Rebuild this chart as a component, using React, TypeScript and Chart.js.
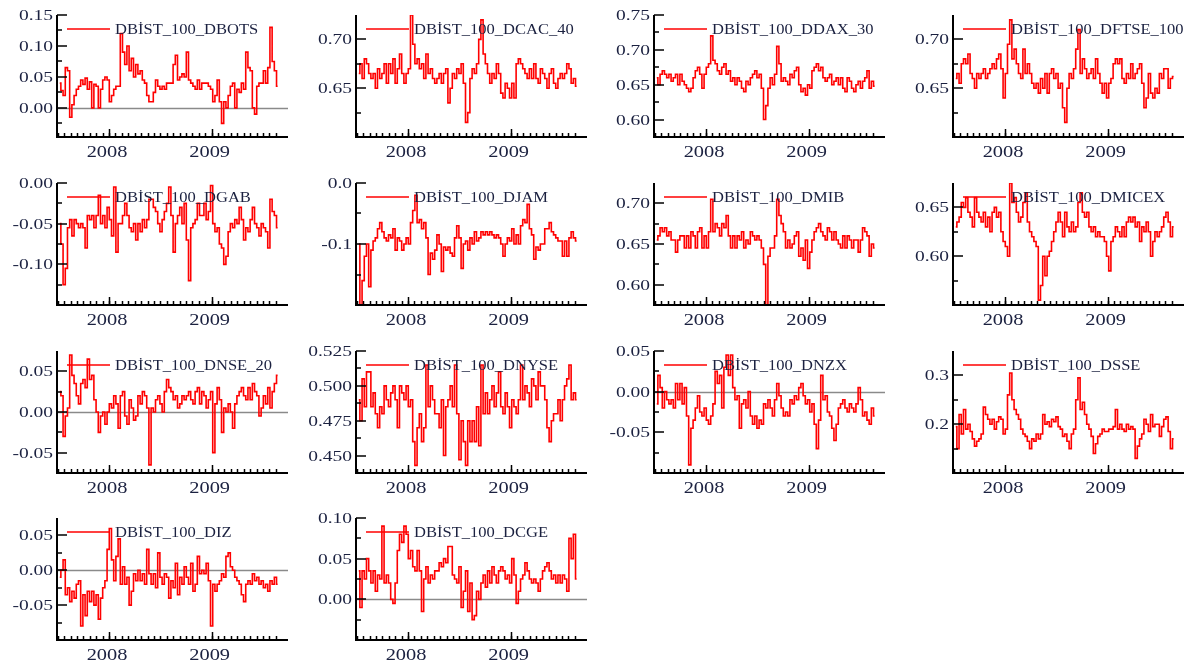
import React, { useEffect, useRef } from 'react';
import { Chart, registerables } from 'chart.js';

Chart.register(...registerables);

const dbots = [0.04, 0.028, 0.02, 0.065, 0.06, -0.015, 0.005, 0.02, 0.03, 0.035,
  0.045, 0.038, 0.048, 0.03, 0.042, 0.0, 0.038, 0.035, 0.0, 0.03,
  0.045, 0.05, 0.045, 0.01, 0.02, 0.03, 0.035, 0.035, 0.12, 0.09,
  0.07, 0.10, 0.06, 0.08, 0.05, 0.07, 0.055, 0.06, 0.045, 0.04,
  0.02, 0.01, 0.01, 0.025, 0.045, 0.035, 0.03, 0.035, 0.03, 0.04,
  0.04, 0.04, 0.07, 0.085, 0.045, 0.05, 0.055, 0.05, 0.09, 0.045,
  0.04, 0.035, 0.03, 0.045, 0.03, 0.04, 0.04, 0.04, 0.035, 0.03,
  0.01, 0.02, 0.045, 0.01, -0.025, 0.01, 0.0, 0.02, 0.035, 0.04,
  0.0, 0.03, 0.025, 0.04, 0.03, 0.09, 0.065, 0.06, 0.0, -0.01,
  0.035, 0.04, 0.04, 0.06, 0.04, 0.065, 0.13, 0.075, 0.06, 0.035];

const dcac40 = [0.665, 0.675, 0.66, 0.68, 0.675, 0.665, 0.66, 0.665, 0.65, 0.67,
  0.66, 0.665, 0.675, 0.655, 0.675, 0.665, 0.68, 0.655, 0.67, 0.685,
  0.665, 0.655, 0.665, 0.67, 0.725, 0.695, 0.675, 0.68, 0.67, 0.675,
  0.66, 0.685, 0.665, 0.67, 0.66, 0.655, 0.66, 0.665, 0.655, 0.665,
  0.67, 0.635, 0.65, 0.665, 0.66, 0.67, 0.665, 0.675, 0.655, 0.615,
  0.625, 0.66, 0.67, 0.665, 0.675, 0.70, 0.72, 0.685, 0.675, 0.665,
  0.655, 0.665, 0.66, 0.675, 0.665, 0.645, 0.64, 0.655, 0.65, 0.64,
  0.655, 0.64, 0.675, 0.68, 0.675, 0.67, 0.665, 0.66, 0.67, 0.66,
  0.675, 0.66, 0.655, 0.67, 0.665, 0.66, 0.65, 0.665, 0.67, 0.655,
  0.65, 0.66, 0.665, 0.66, 0.665, 0.675, 0.67, 0.655, 0.66, 0.652];

const ddax30 = [0.66, 0.65, 0.665, 0.67, 0.665, 0.66, 0.665, 0.655, 0.66, 0.665,
  0.65, 0.665, 0.655, 0.65, 0.645, 0.64, 0.645, 0.66, 0.67, 0.675,
  0.665, 0.645, 0.665, 0.675, 0.68, 0.72, 0.685, 0.68, 0.67, 0.665,
  0.675, 0.68, 0.665, 0.67, 0.655, 0.66, 0.65, 0.66, 0.655, 0.645,
  0.64, 0.655, 0.65, 0.66, 0.665, 0.67, 0.66, 0.665, 0.645, 0.60,
  0.62, 0.645, 0.66, 0.65, 0.665, 0.705, 0.68, 0.655, 0.66, 0.655,
  0.65, 0.665, 0.66, 0.67, 0.675, 0.65, 0.64, 0.645, 0.635, 0.65,
  0.645, 0.67, 0.675, 0.68, 0.67, 0.675, 0.66, 0.655, 0.66, 0.665,
  0.65, 0.655, 0.66, 0.65, 0.66, 0.645, 0.64, 0.66, 0.655, 0.645,
  0.64, 0.65, 0.655, 0.645, 0.655, 0.66, 0.67, 0.645, 0.655, 0.648];

const dftse100 = [0.66, 0.665, 0.655, 0.675, 0.68, 0.675, 0.685, 0.665, 0.66, 0.65,
  0.665, 0.66, 0.665, 0.67, 0.66, 0.665, 0.67, 0.675, 0.67, 0.68,
  0.685, 0.67, 0.64, 0.665, 0.695, 0.72, 0.68, 0.69, 0.675, 0.665,
  0.66, 0.69, 0.665, 0.675, 0.665, 0.655, 0.65, 0.655, 0.645, 0.66,
  0.65, 0.665, 0.645, 0.665, 0.67, 0.66, 0.665, 0.65, 0.655, 0.63,
  0.615, 0.65, 0.665, 0.66, 0.67, 0.69, 0.71, 0.665, 0.68, 0.67,
  0.66, 0.665, 0.67, 0.66, 0.68, 0.665, 0.655, 0.645, 0.655, 0.64,
  0.655, 0.66, 0.675, 0.68, 0.675, 0.68, 0.66, 0.655, 0.665, 0.66,
  0.675, 0.66, 0.665, 0.67, 0.675, 0.655, 0.63, 0.64, 0.665, 0.645,
  0.64, 0.65, 0.645, 0.665, 0.66, 0.67, 0.67, 0.65, 0.66, 0.662];

const dgab = [-0.05, -0.075, -0.125, -0.105, -0.055, -0.045, -0.065, -0.045, -0.05, -0.055,
  -0.05, -0.055, -0.08, -0.04, -0.045, -0.04, -0.055, -0.04, -0.015, -0.05,
  -0.04, -0.055, -0.03, -0.045, -0.065, -0.005, -0.085, -0.05, -0.05, -0.04,
  -0.025, -0.04, -0.055, -0.06, -0.05, -0.07, -0.05, -0.06, -0.045, -0.055,
  -0.045, -0.02, -0.02, -0.03, -0.035, -0.05, -0.06, -0.045, -0.035, -0.025,
  -0.005, -0.04, -0.085, -0.05, -0.04, -0.03, -0.05, -0.025, -0.07, -0.12,
  -0.055, -0.05, -0.045, -0.025, -0.04, -0.04, -0.025, -0.045, -0.035, -0.003,
  -0.05, -0.06, -0.055, -0.075, -0.08, -0.1, -0.09, -0.06, -0.05, -0.055,
  -0.045, -0.05, -0.03, -0.045, -0.07, -0.055, -0.06, -0.045, -0.03, -0.05,
  -0.055, -0.065, -0.05, -0.055, -0.06, -0.08, -0.02, -0.035, -0.04, -0.055];

const djam = [-0.10, -0.2, -0.16, -0.12, -0.1, -0.17, -0.11, -0.095, -0.09, -0.075,
  -0.065, -0.08, -0.09, -0.095, -0.085, -0.09, -0.075, -0.11, -0.09, -0.095,
  -0.11, -0.1, -0.09, -0.1, -0.065, -0.045, -0.02, -0.065, -0.06, -0.075,
  -0.065, -0.09, -0.15, -0.115, -0.125, -0.11, -0.085, -0.1, -0.145, -0.105,
  -0.11, -0.105, -0.115, -0.12, -0.09, -0.07, -0.09, -0.14, -0.1, -0.095,
  -0.11, -0.09, -0.1, -0.08, -0.095, -0.09, -0.08, -0.085, -0.08, -0.085,
  -0.08, -0.085, -0.09, -0.085, -0.09, -0.1, -0.12, -0.1, -0.09, -0.095,
  -0.075, -0.1, -0.085, -0.1, -0.07, -0.06, -0.065, -0.035, -0.075, -0.085,
  -0.125, -0.105, -0.11, -0.1, -0.1, -0.075, -0.075, -0.065, -0.08, -0.085,
  -0.09, -0.095, -0.095, -0.12, -0.095, -0.12, -0.09, -0.08, -0.09, -0.095];

const dmib = [0.655, 0.66, 0.67, 0.665, 0.67, 0.66, 0.665, 0.655, 0.655, 0.64,
  0.655, 0.66, 0.66, 0.645, 0.66, 0.645, 0.665, 0.66, 0.645, 0.665,
  0.67, 0.645, 0.66, 0.645, 0.665, 0.705, 0.665, 0.675, 0.67, 0.66,
  0.675, 0.67, 0.685, 0.66, 0.645, 0.66, 0.645, 0.66, 0.655, 0.665,
  0.645, 0.655, 0.65, 0.665, 0.66, 0.655, 0.66, 0.655, 0.645, 0.625,
  0.575, 0.635, 0.645, 0.645, 0.66, 0.705, 0.685, 0.675, 0.665, 0.645,
  0.655, 0.645, 0.65, 0.66, 0.665, 0.635, 0.645, 0.63, 0.655, 0.62,
  0.64, 0.655, 0.665, 0.67, 0.675, 0.665, 0.66, 0.655, 0.67, 0.665,
  0.655, 0.665, 0.655, 0.65, 0.645, 0.66, 0.645, 0.66, 0.655, 0.645,
  0.655, 0.655, 0.64, 0.655, 0.67, 0.665, 0.66, 0.635, 0.65, 0.645];

const dmicex = [0.63, 0.635, 0.64, 0.655, 0.65, 0.66, 0.645, 0.64, 0.63, 0.66,
  0.645, 0.64, 0.635, 0.645, 0.63, 0.64, 0.625, 0.645, 0.65, 0.64,
  0.645, 0.625, 0.615, 0.61, 0.60, 0.675, 0.655, 0.66, 0.645, 0.635,
  0.64, 0.655, 0.665, 0.635, 0.625, 0.62, 0.615, 0.61, 0.555, 0.57,
  0.60, 0.58, 0.60, 0.605, 0.615, 0.625, 0.635, 0.645, 0.635, 0.62,
  0.645, 0.63, 0.625, 0.635, 0.625, 0.63, 0.655, 0.665, 0.645, 0.64,
  0.645, 0.63, 0.625, 0.63, 0.62, 0.625, 0.62, 0.62, 0.615, 0.6,
  0.585, 0.615, 0.62, 0.63, 0.625, 0.62, 0.63, 0.62, 0.635, 0.64,
  0.635, 0.64, 0.63, 0.635, 0.615, 0.63, 0.625, 0.635, 0.625, 0.6,
  0.615, 0.625, 0.62, 0.625, 0.63, 0.64, 0.645, 0.635, 0.62, 0.63];

const dnse20 = [0.025, 0.02, -0.03, -0.005, 0.005, 0.07, 0.045, 0.035, 0.02, 0.01,
  0.035, 0.04, 0.03, 0.065, 0.04, 0.045, 0.015, 0.0, -0.025, -0.005,
  0.0, -0.015, 0.0, 0.01, 0.005, 0.02, 0.01, -0.02, 0.02, 0.025,
  -0.005, -0.015, 0.015, 0.005, -0.01, -0.005, 0.02, 0.01, 0.025, 0.02,
  0.005, -0.065, 0.005, 0.0, 0.015, 0.02, 0.01, 0.0, 0.025, 0.04,
  0.03, 0.025, 0.015, 0.02, 0.005, 0.01, 0.02, 0.015, 0.02, 0.025,
  0.015, 0.01, 0.025, 0.03, 0.01, 0.025, 0.02, 0.005, 0.015, 0.025,
  -0.05, 0.01, 0.03, 0.015, -0.025, 0.005, 0.0, 0.01, 0.0, -0.02,
  0.01, 0.02, 0.025, 0.03, 0.02, 0.015, 0.03, 0.015, 0.035, 0.025,
  0.02, -0.005, 0.005, 0.02, 0.01, 0.03, 0.005, 0.025, 0.035, 0.045];

const dnyse = [0.49, 0.475, 0.505, 0.485, 0.51, 0.51, 0.485, 0.495, 0.48, 0.47,
  0.485, 0.48, 0.5, 0.49, 0.485, 0.495, 0.5, 0.49, 0.47, 0.5,
  0.495, 0.49, 0.5, 0.485, 0.49, 0.46, 0.443, 0.47, 0.48, 0.46,
  0.47, 0.515, 0.485, 0.5, 0.49, 0.48, 0.48, 0.47, 0.49, 0.45,
  0.485, 0.49, 0.5, 0.485, 0.515, 0.48, 0.447, 0.475, 0.46, 0.443,
  0.475, 0.46, 0.475, 0.46, 0.485, 0.457, 0.515, 0.48, 0.495, 0.48,
  0.49, 0.5, 0.485, 0.495, 0.51, 0.485, 0.48, 0.495, 0.485, 0.47,
  0.49, 0.485, 0.48, 0.49, 0.515, 0.49, 0.5, 0.495, 0.485, 0.505,
  0.5, 0.49, 0.51, 0.5, 0.5, 0.49, 0.47, 0.46, 0.475, 0.48,
  0.48, 0.49, 0.475, 0.49, 0.5, 0.505, 0.515, 0.49, 0.495, 0.49];

const dnzx = [-0.015, 0.02, 0.005, -0.02, 0.0, -0.01, -0.015, -0.01, -0.02, 0.01,
  -0.01, 0.01, -0.015, 0.005, -0.03, -0.09, -0.045, -0.035, -0.02, -0.005,
  -0.025, -0.03, -0.02, -0.035, -0.04, -0.03, -0.015, 0.025, 0.01, 0.02,
  -0.02, 0.03, 0.045, 0.02, 0.045, 0.005, -0.01, -0.005, -0.045, -0.015,
  -0.01, -0.02, 0.0, -0.03, -0.04, -0.03, -0.045, -0.035, -0.04, -0.015,
  -0.02, -0.01, -0.02, -0.03, -0.01, 0.01, -0.005, -0.02, -0.03, -0.025,
  -0.03, -0.01, -0.015, -0.005, -0.01, 0.005, 0.01, -0.005, -0.015, -0.01,
  -0.025, -0.015, -0.04, -0.07, -0.035, 0.02, -0.01, -0.005, -0.025, -0.03,
  -0.045, -0.06, -0.04, -0.02, -0.015, -0.01, -0.02, -0.025, -0.015, -0.02,
  -0.025, -0.015, 0.005, -0.01, -0.03, -0.025, -0.035, -0.04, -0.02, -0.03];

const dsse = [0.195, 0.15, 0.22, 0.18, 0.23, 0.19, 0.2, 0.185, 0.17, 0.155,
  0.165, 0.17, 0.18, 0.235, 0.22, 0.21, 0.2, 0.21, 0.19, 0.205,
  0.215, 0.21, 0.18, 0.19, 0.26, 0.305, 0.25, 0.23, 0.22, 0.21,
  0.19, 0.18, 0.175, 0.165, 0.15, 0.17, 0.165, 0.18, 0.17, 0.18,
  0.22, 0.2, 0.205, 0.195, 0.21, 0.205, 0.215, 0.195, 0.19, 0.175,
  0.18, 0.165, 0.15, 0.18, 0.19, 0.25, 0.295, 0.23, 0.245, 0.22,
  0.2, 0.19, 0.175, 0.14, 0.16, 0.175, 0.18, 0.19, 0.185, 0.185,
  0.19, 0.19, 0.195, 0.23, 0.19, 0.2, 0.19, 0.185, 0.2, 0.19,
  0.195, 0.19, 0.13, 0.155, 0.17, 0.18, 0.21, 0.2, 0.185, 0.22,
  0.195, 0.2, 0.2, 0.175, 0.195, 0.21, 0.215, 0.185, 0.15, 0.17];

const diz = [-0.01, 0.0, 0.015, -0.035, -0.025, -0.045, -0.03, -0.04, -0.02, -0.015,
  -0.08, -0.035, -0.065, -0.03, -0.045, -0.03, -0.05, -0.035, -0.07, -0.04,
  -0.025, -0.015, 0.03, 0.06, 0.015, -0.015, 0.02, 0.045, -0.02, 0.005,
  -0.02, -0.01, -0.05, -0.03, -0.005, -0.015, 0.0, -0.015, -0.005, -0.02,
  0.03, -0.005, -0.02, -0.005, -0.025, 0.025, -0.01, -0.02, -0.005, -0.01,
  -0.04, -0.015, -0.025, 0.01, -0.035, -0.01, -0.02, 0.005, -0.01, -0.02,
  0.01, -0.03, -0.02, 0.02, -0.005, 0.0, -0.005, 0.01, -0.015, -0.08,
  -0.02, -0.03, -0.02, -0.015, -0.005, -0.01, 0.02, 0.025, 0.005, 0.0,
  -0.01, -0.015, -0.02, -0.035, -0.045, -0.02, -0.015, -0.02, -0.005, -0.015,
  -0.01, -0.02, -0.015, -0.025, -0.02, -0.03, -0.015, -0.02, -0.01, -0.02];

const dcge = [0.035, -0.01, 0.035, 0.025, 0.05, 0.035, 0.02, 0.035, 0.01, 0.03,
  0.025, 0.09, 0.02, 0.03, 0.02, 0.0, -0.005, 0.02, 0.06, 0.08,
  0.07, 0.09, 0.08, 0.05, 0.06, 0.04, 0.035, 0.06, 0.035, -0.015,
  0.025, 0.04, 0.02, 0.03, 0.025, 0.035, 0.035, 0.045, 0.04, 0.05,
  0.045, 0.065, 0.065, 0.03, 0.025, 0.02, 0.04, -0.01, 0.01, 0.035,
  -0.015, 0.02, -0.025, -0.02, 0.01, 0.0, 0.02, 0.03, 0.015, 0.035,
  0.02, 0.04, 0.03, 0.02, 0.035, 0.04, 0.035, 0.025, 0.03, 0.02,
  0.05, 0.03, -0.005, 0.01, 0.025, 0.03, 0.045, 0.035, 0.025, 0.02,
  0.025, 0.02, 0.01, 0.025, 0.035, 0.04, 0.045, 0.035, 0.025, 0.03,
  0.02, 0.03, 0.02, 0.03, 0.025, 0.01, 0.075, 0.05, 0.08, 0.025];

// ---------- time axis ----------
const FIRST_OBS = 2007.52;
const LAST_OBS = 2009.643;
const periods = dbots.map((_, i) => FIRST_OBS + (i * (LAST_OBS - FIRST_OBS)) / (dbots.length - 1));
const X_MIN = 2007.493;
const X_MAX = 2009.744;
const yearTicks = [2008, 2009];
const yearLabels = ['2008', '2009'];
const MINOR_X_PER_YEAR = 16;

// ---------- y tick sets ----------
const dbotsMajor = [0, 0.05, 0.1, 0.15];
const dbotsMinor = [-0.025, 0.025, 0.075, 0.125];
const cacMajor = [0.65, 0.7];
const cacMinor = [0.625, 0.675];
const daxMajor = [0.6, 0.65, 0.7, 0.75];
const daxMinor = [0.625, 0.675, 0.725];
const gabMajor = [-0.1, -0.05, 0];
const gabMinor = [-0.125, -0.075, -0.025];
const jamMajor = [-0.1, 0];
const jamMinor = [-0.15, -0.05];
const mibMajor = [0.6, 0.65, 0.7];
const mibMinor = [0.625, 0.675];
const micexMajor = [0.6, 0.65];
const micexMinor = [0.575, 0.625];
const pmMajor = [-0.05, 0, 0.05];
const nseMinor = [-0.025, 0.025];
const pmMinor3 = [-0.075, -0.025, 0.025];
const nyseMajor = [0.45, 0.475, 0.5, 0.525];
const nyseMinor = [0.4625, 0.4875, 0.5125];
const sseMajor = [0.2, 0.3];
const sseMinor = [0.15, 0.25];
const cgeMajor = [0, 0.05, 0.1];
const cgeMinor = [-0.025, 0.025, 0.075];

type Panel = {
  name: string; values: number[]; min: number; max: number;
  major: number[]; minor: number[]; decimals: number; zero: boolean;
};

const panels: Panel[] = [
  { name: 'DBİST_100_DBOTS', values: dbots, min: -0.047, max: 0.15, major: dbotsMajor, minor: dbotsMinor, decimals: 2, zero: true },
  { name: 'DBİST_100_DCAC_40', values: dcac40, min: 0.6, max: 0.725, major: cacMajor, minor: cacMinor, decimals: 2, zero: false },
  { name: 'DBİST_100_DDAX_30', values: ddax30, min: 0.575, max: 0.75, major: daxMajor, minor: daxMinor, decimals: 2, zero: false },
  { name: 'DBİST_100_DFTSE_100', values: dftse100, min: 0.6, max: 0.725, major: cacMajor, minor: cacMinor, decimals: 2, zero: false },
  { name: 'DBİST_100_DGAB', values: dgab, min: -0.15, max: 0, major: gabMajor, minor: gabMinor, decimals: 2, zero: false },
  { name: 'DBİST_100_DJAM', values: djam, min: -0.2, max: 0, major: jamMajor, minor: jamMinor, decimals: 1, zero: false },
  { name: 'DBİST_100_DMIB', values: dmib, min: 0.575, max: 0.725, major: mibMajor, minor: mibMinor, decimals: 2, zero: false },
  { name: 'DBİST_100_DMICEX', values: dmicex, min: 0.55, max: 0.675, major: micexMajor, minor: micexMinor, decimals: 2, zero: false },
  { name: 'DBİST_100_DNSE_20', values: dnse20, min: -0.075, max: 0.075, major: pmMajor, minor: nseMinor, decimals: 2, zero: true },
  { name: 'DBİST_100_DNYSE', values: dnyse, min: 0.4375, max: 0.525, major: nyseMajor, minor: nyseMinor, decimals: 3, zero: false },
  { name: 'DBİST_100_DNZX', values: dnzx, min: -0.1, max: 0.05, major: pmMajor, minor: pmMinor3, decimals: 2, zero: true },
  { name: 'DBİST_100_DSSE', values: dsse, min: 0.1, max: 0.35, major: sseMajor, minor: sseMinor, decimals: 1, zero: false },
  { name: 'DBİST_100_DIZ', values: diz, min: -0.1, max: 0.075, major: pmMajor, minor: pmMinor3, decimals: 2, zero: true },
  { name: 'DBİST_100_DCGE', values: dcge, min: -0.05, max: 0.1, major: cgeMajor, minor: cgeMinor, decimals: 2, zero: true },
];

// ---------- layout ----------
const COL_LEFT = [57, 356, 654, 953];
const ROW_TOP = [15, 183, 351, 518];
const PLOT_W = 231;
const PLOT_H = 122;
const PAD_L = 57;
const PAD_T = 15;
const CW = 295;
const CH = 168;

const TEXT = '#1b2140';
const SERIF = '"Liberation Serif", "Times New Roman", serif';

function stretchedText(ctx: CanvasRenderingContext2D, s: string, x: number, y: number, align: CanvasTextAlign, sx: number) {
  ctx.save();
  ctx.translate(x, y);
  ctx.scale(sx, 1);
  ctx.textAlign = align;
  ctx.fillText(s, 0, 0);
  ctx.restore();
}

function makeDeco(p: Panel) {
  return {
    id: 'deco',
    beforeDatasetsDraw(chart: any) {
      if (!p.zero) return;
      const { ctx, chartArea: a } = chart;
      const py = Math.round(chart.scales.y.getPixelForValue(0)) + 0.5;
      ctx.save();
      ctx.strokeStyle = '#8a8a8a';
      ctx.lineWidth = 1.5;
      ctx.beginPath();
      ctx.moveTo(a.left, py);
      ctx.lineTo(a.right, py);
      ctx.stroke();
      ctx.restore();
    },
    afterDatasetsDraw(chart: any) {
      const { ctx, chartArea: a } = chart;
      const xs = chart.scales.x;
      const ys = chart.scales.y;
      ctx.save();
      ctx.strokeStyle = '#000';
      ctx.lineWidth = 2;
      ctx.beginPath();
      ctx.moveTo(a.left, a.top);
      ctx.lineTo(a.left, a.bottom);
      ctx.lineTo(a.right, a.bottom);
      ctx.stroke();

      ctx.lineWidth = 1.5;
      const tick = (x1: number, y1: number, x2: number, y2: number) => {
        ctx.beginPath();
        ctx.moveTo(x1, y1);
        ctx.lineTo(x2, y2);
        ctx.stroke();
      };
      for (const v of p.major) {
        const py = Math.round(ys.getPixelForValue(v));
        tick(a.left, py, a.left + 10, py);
      }
      for (const v of p.minor) {
        const py = Math.round(ys.getPixelForValue(v));
        tick(a.left, py, a.left + 5, py);
      }
      const step = 1 / MINOR_X_PER_YEAR;
      const k0 = Math.ceil((X_MIN - yearTicks[0]) / step);
      const k1 = Math.floor((X_MAX - 0.06 - yearTicks[0]) / step);
      for (let k = k0; k <= k1; k++) {
        const px = Math.round(xs.getPixelForValue(yearTicks[0] + k * step)) + 0.5;
        tick(px, a.bottom, px, a.bottom - 4);
      }
      for (const yv of yearTicks) {
        const px = Math.round(xs.getPixelForValue(yv)) + 0.5;
        tick(px, a.bottom, px, a.bottom - 8);
      }

      ctx.fillStyle = TEXT;
      ctx.textBaseline = 'middle';
      ctx.font = `15px ${SERIF}`;
      for (const v of p.major) {
        const py = ys.getPixelForValue(v);
        stretchedText(ctx, v.toFixed(p.decimals), a.left - 4, py + 1, 'right', 1.3);
      }
      ctx.font = `17px ${SERIF}`;
      yearTicks.forEach((yv, i) => {
        const px = xs.getPixelForValue(yv);
        stretchedText(ctx, yearLabels[i], px - 2, a.bottom + 16, 'center', 1.2);
      });

      // legend
      ctx.strokeStyle = '#ff0000';
      ctx.lineWidth = 1.5;
      tick(a.left + 10, a.top + 14, a.left + 53, a.top + 14);
      ctx.font = `14px ${SERIF}`;
      stretchedText(ctx, p.name, a.left + 58, a.top + 15, 'left', 1.18);
      ctx.restore();
    },
  };
}

export default function App() {
  const refs = useRef<(HTMLCanvasElement | null)[]>([]);

  useEffect(() => {
    const charts = panels.map((p, i) => {
      const canvas = refs.current[i] as HTMLCanvasElement;
      return new Chart(canvas, {
        type: 'line',
        data: {
          datasets: [{
            label: p.name,
            data: p.values.map((v, j) => ({ x: periods[j], y: v })),
            borderColor: '#ff0000',
            borderWidth: 1.6,
            pointRadius: 0,
            tension: 0,
            stepped: 'middle',
            fill: false,
          }],
        },
        options: {
          animation: false,
          responsive: false,
          maintainAspectRatio: false,
          devicePixelRatio: 1,
          events: [],
          layout: { padding: { left: PAD_L, top: PAD_T, right: CW - PAD_L - PLOT_W, bottom: CH - PAD_T - PLOT_H } },
          scales: {
            x: { type: 'linear', min: X_MIN, max: X_MAX, display: false },
            y: { type: 'linear', min: p.min, max: p.max, display: false },
          },
          plugins: { legend: { display: false }, tooltip: { enabled: false } },
        },
        plugins: [makeDeco(p)],
      } as any);
    });
    return () => charts.forEach((c) => c.destroy());
  }, []);

  return (
    <div style={{ position: 'absolute', left: 0, top: 0, width: 1191, height: 666, overflow: 'hidden', background: '#fff' }}>
      {panels.map((p, i) => (
        <canvas
          key={p.name}
          ref={(el) => { refs.current[i] = el; }}
          width={CW}
          height={CH}
          style={{
            position: 'absolute',
            left: COL_LEFT[i % 4] - PAD_L,
            top: ROW_TOP[Math.floor(i / 4)] - PAD_T,
            width: CW,
            height: CH,
            display: 'block',
          }}
        />
      ))}
    </div>
  );
}
